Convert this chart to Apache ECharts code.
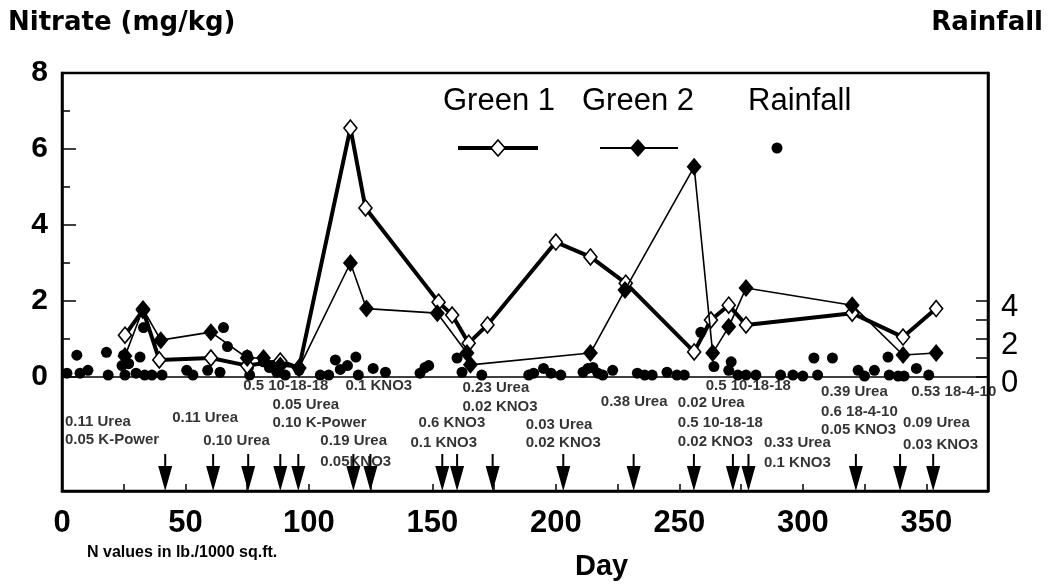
<!DOCTYPE html>
<html>
<head>
<meta charset="utf-8">
<script src="https://cdn.jsdelivr.net/npm/echarts@6/dist/echarts.min.js"></script>
<style>
html,body{margin:0;padding:0;background:#fff;}
#chart{width:1050px;height:588px;}
</style>
</head>
<body>
<div id="chart"></div>
<script>
// Nitrate readings (mg/kg) for the two greens
const green1Days   = [25.5, 32.8, 39.4, 60.3, 75, 88.4, 96, 116.8, 122.9, 152.5, 158, 164.7, 172.3, 200, 214, 228.3, 256, 262.8, 270, 277, 320, 340.6, 354];
const green1Values = [1.1, 1.76, 0.45, 0.5, 0.3, 0.42, 0.24, 6.55, 4.45, 1.97, 1.63, 0.89, 1.37, 3.55, 3.16, 2.47, 0.66, 1.5, 1.89, 1.37, 1.68, 1.05, 1.8];
const green2Days   = [25.5, 32.8, 40, 60.3, 75, 81.6, 88.4, 96, 116.8, 123.3, 152, 164, 165.4, 214, 228, 256, 263.5, 270, 277, 320, 340.6, 354];
const green2Values = [0.55, 1.79, 0.97, 1.18, 0.5, 0.5, 0.3, 0.24, 3.0, 1.8, 1.68, 0.63, 0.32, 0.63, 2.29, 5.53, 0.63, 1.32, 2.34, 1.89, 0.58, 0.63];

// Daily rainfall (right axis)
const rainDays   = [2, 6, 7.3, 10.5, 18, 18.7, 24.3, 25, 25.5, 27, 30, 31.6, 33, 33.5, 36.4, 40.5, 50.5, 53, 59, 64, 65.4, 67, 75, 75.5, 76, 81.6, 84, 87, 90.4, 96, 104.6, 108, 110.7, 112.7, 115.6, 119, 120, 126, 131, 145, 147, 148.5, 160, 162, 170, 189, 191, 195, 198, 202, 211, 213, 215, 217, 219, 223, 233, 236, 239, 245, 249, 252, 258.7, 264, 270, 271, 273.7, 277, 281, 291, 296, 300, 304.5, 306, 312, 322.4, 325, 329, 334.5, 335, 338.6, 341, 346, 351];
const rainInches = [0.2, 1.15, 0.2, 0.35, 1.3, 0.1, 0.6, 1.15, 0.1, 0.7, 0.2, 1.05, 2.6, 0.1, 0.1, 0.1, 0.35, 0.1, 0.35, 0.25, 2.6, 1.6, 1.15, 0.5, 0.1, 0.8, 0.5, 0.25, 0.1, 0.35, 0.1, 0.1, 0.9, 0.4, 0.6, 1.05, 0.1, 0.45, 0.25, 0.2, 0.5, 0.6, 1.0, 0.25, 0.1, 0.1, 0.2, 0.45, 0.2, 0.1, 0.25, 0.45, 0.5, 0.2, 0.1, 0.35, 0.2, 0.1, 0.1, 0.25, 0.1, 0.1, 2.35, 0.55, 0.35, 0.8, 0.1, 0.1, 0.1, 0.1, 0.1, 0.05, 1.0, 0.1, 1.0, 0.35, 0.05, 0.35, 1.05, 0.1, 0.05, 0.05, 0.45, 0.1];

// Fertilizer application days (arrows) and their notes
const applicationDays = [41.8, 61.2, 75.4, 88.4, 95.7, 118, 124.9, 154, 160, 174.4, 203, 231.5, 255.9, 271.7, 278, 321.5, 339.4, 352.8];
const noteTexts  = ['0.11 Urea', '0.05 K-Power', '0.11 Urea', '0.10 Urea', '0.5 10-18-18', '0.05 Urea', '0.10 K-Power', '0.1 KNO3', '0.19 Urea', '0.05KNO3', '0.6 KNO3', '0.1 KNO3', '0.23 Urea', '0.02 KNO3', '0.03 Urea', '0.02 KNO3', '0.38 Urea', '0.02 Urea', '0.5 10-18-18', '0.02 KNO3', '0.5 10-18-18', '0.33 Urea', '0.1 KNO3', '0.39 Urea', '0.6 18-4-10', '0.05 KNO3', '0.53 18-4-10', '0.09 Urea', '0.03 KNO3'];
const noteDays   = [1.2, 1.2, 44.6, 57.2, 73.4, 85.2, 85.2, 114.8, 104.6, 104.6, 144.4, 141.1, 162.2, 162.2, 187.8, 187.8, 218.2, 249.4, 249.4, 249.4, 260.7, 284.3, 284.3, 307.4, 307.4, 307.4, 343.9, 340.6, 340.6];
const noteLevels = [-1.18, -1.66, -1.08, -1.68, -0.24, -0.74, -1.21, -0.24, -1.68, -2.24, -1.21, -1.74, -0.29, -0.79, -1.26, -1.74, -0.66, -0.68, -1.21, -1.71, -0.24, -1.74, -2.26, -0.39, -0.92, -1.39, -0.39, -1.21, -1.79];

// Axis tick labels
const dayLabels     = [0, 50, 100, 150, 200, 250, 300, 350];
const nitrateLabels = [0, 2, 4, 6, 8];
const nitrateMinor  = [1, 3, 5, 7];
const rainLabels    = [0, 2, 4];
const rainTicks     = [0, 1, 2, 3, 4];

const FONT = '"Liberation Sans", Arial, sans-serif';
const TITLE_FONT = '"DejaVu Sans", "Liberation Sans", sans-serif';
const pair = (xs, ys) => xs.map((x, i) => [x, ys[i]]);

const arrowPath = 'path://M6,0 L8,0 L8,12 L14,12 L7,37 L0,12 L6,12 Z';

const chart = echarts.init(document.getElementById('chart'), null, { renderer: 'canvas' });

chart.setOption({
  animation: false,
  backgroundColor: '#fff',
  grid: {
    left: 62, right: 62, top: 73, bottom: 97,
    show: true, borderColor: '#000', borderWidth: 2.5,
    containLabel: false, outerBoundsMode: 'none'
  },
  xAxis: {
    type: 'value', min: 0, max: 375, interval: 25,
    axisLine: { show: true, onZero: false, lineStyle: { color: '#000', width: 2.5 } },
    axisTick: { show: true, inside: true, length: 7, lineStyle: { color: '#000', width: 1.5 } },
    axisLabel: { customValues: dayLabels, color: '#000', fontSize: 31, fontWeight: 'bold', fontFamily: FONT, margin: 17 },
    splitLine: { show: false }
  },
  yAxis: [
    {
      type: 'value', min: -3, max: 8, position: 'left',
      axisLine: { show: true, onZero: false, lineStyle: { color: '#000', width: 2.5 } },
      axisTick: { show: true, inside: true, length: 14, customValues: nitrateLabels, lineStyle: { color: '#000', width: 1.5 } },
      axisLabel: { customValues: nitrateLabels, color: '#000', fontSize: 30, fontWeight: 'bold', fontFamily: FONT, margin: 14 },
      splitLine: { show: false }
    },
    {
      type: 'value', min: -3, max: 8, position: 'left',
      axisLine: { show: false, onZero: false },
      axisTick: { show: true, inside: true, length: 8, customValues: nitrateMinor, lineStyle: { color: '#000', width: 1.5 } },
      axisLabel: { show: false },
      splitLine: { show: false }
    },
    {
      type: 'value', min: -6, max: 16, position: 'right',
      axisLine: { show: true, onZero: false, lineStyle: { color: '#000', width: 2.5 } },
      axisTick: { show: true, inside: true, length: 12, customValues: rainTicks, lineStyle: { color: '#000', width: 1.5 } },
      axisLabel: { customValues: rainLabels, color: '#000', fontSize: 31, fontFamily: FONT, margin: 13, verticalAlign: 'top', lineHeight: 12 },
      splitLine: { show: false }
    }
  ],
  series: [
    {
      name: 'Rainfall', type: 'scatter', yAxisIndex: 2, silent: true, z: 2,
      symbol: 'circle', symbolSize: 11,
      itemStyle: { color: '#000', opacity: 1 },
      data: pair(rainDays, rainInches)
    },
    {
      name: 'Green 1', type: 'line', yAxisIndex: 0, silent: true, z: 3,
      symbol: 'diamond', symbolSize: [13, 16],
      lineStyle: { color: '#000', width: 4 },
      itemStyle: { color: '#fff', borderColor: '#000', borderWidth: 1.6, opacity: 1 },
      data: pair(green1Days, green1Values),
      markLine: {
        silent: true, symbol: ['none', 'none'],
        label: { show: false },
        lineStyle: { color: '#000', width: 1.5, type: 'solid', opacity: 1 },
        data: [{ yAxis: 0 }]
      }
    },
    {
      name: 'Green 2', type: 'line', yAxisIndex: 0, silent: true, z: 4,
      symbol: 'diamond', symbolSize: [15, 18],
      lineStyle: { color: '#000', width: 1.6 },
      itemStyle: { color: '#000', opacity: 1 },
      data: pair(green2Days, green2Values)
    },
    {
      name: 'Applications', type: 'scatter', yAxisIndex: 0, silent: true, z: 5,
      symbol: arrowPath, symbolSize: [14, 37], symbolOffset: [0, '-50%'],
      itemStyle: { color: '#000', opacity: 1 },
      data: applicationDays.map(d => [d, -3])
    },
    {
      name: 'Notes', type: 'scatter', yAxisIndex: 0, silent: true, z: 6,
      symbolSize: 0,
      label: {
        show: true, position: [0, 0], align: 'left', verticalAlign: 'middle',
        formatter: p => p.value[2],
        color: '#000', fontSize: 15, fontWeight: 'bold', fontFamily: FONT
      },
      data: noteTexts.map((t, i) => [noteDays[i], noteLevels[i], t])
    }
  ],
  graphic: [
    { type: 'text', left: 8, top: 10, style: { text: 'Nitrate (mg/kg)', fill: '#000', font: 'bold 26px ' + TITLE_FONT } },
    { type: 'text', right: 7, top: 10, style: { text: 'Rainfall', fill: '#000', font: 'bold 26px ' + TITLE_FONT } },
    { type: 'text', left: 443, top: 86, style: { text: 'Green 1', fill: '#000', font: '31px ' + FONT } },
    { type: 'text', left: 582, top: 86, style: { text: 'Green 2', fill: '#000', font: '31px ' + FONT } },
    { type: 'text', left: 748, top: 86, style: { text: 'Rainfall', fill: '#000', font: '31px ' + FONT } },
    { type: 'line', shape: { x1: 458, y1: 148, x2: 538, y2: 148 }, style: { stroke: '#000', lineWidth: 4 } },
    { type: 'polygon', shape: { points: [[498, 140], [505, 148], [498, 156], [491, 148]] }, style: { fill: '#fff', stroke: '#000', lineWidth: 1.6 } },
    { type: 'line', shape: { x1: 600, y1: 148, x2: 678, y2: 148 }, style: { stroke: '#000', lineWidth: 2 } },
    { type: 'polygon', shape: { points: [[638, 139], [646, 148], [638, 157], [630, 148]] }, style: { fill: '#000' } },
    { type: 'circle', shape: { cx: 777, cy: 148, r: 5.5 }, style: { fill: '#000' } },
    { type: 'text', left: 87, top: 545, style: { text: 'N values in lb./1000 sq.ft.', fill: '#000', font: 'bold 16px ' + FONT } },
    { type: 'text', left: 575, top: 552, style: { text: 'Day', fill: '#000', font: 'bold 29px ' + FONT } }
  ]
});
</script>
</body>
</html>
